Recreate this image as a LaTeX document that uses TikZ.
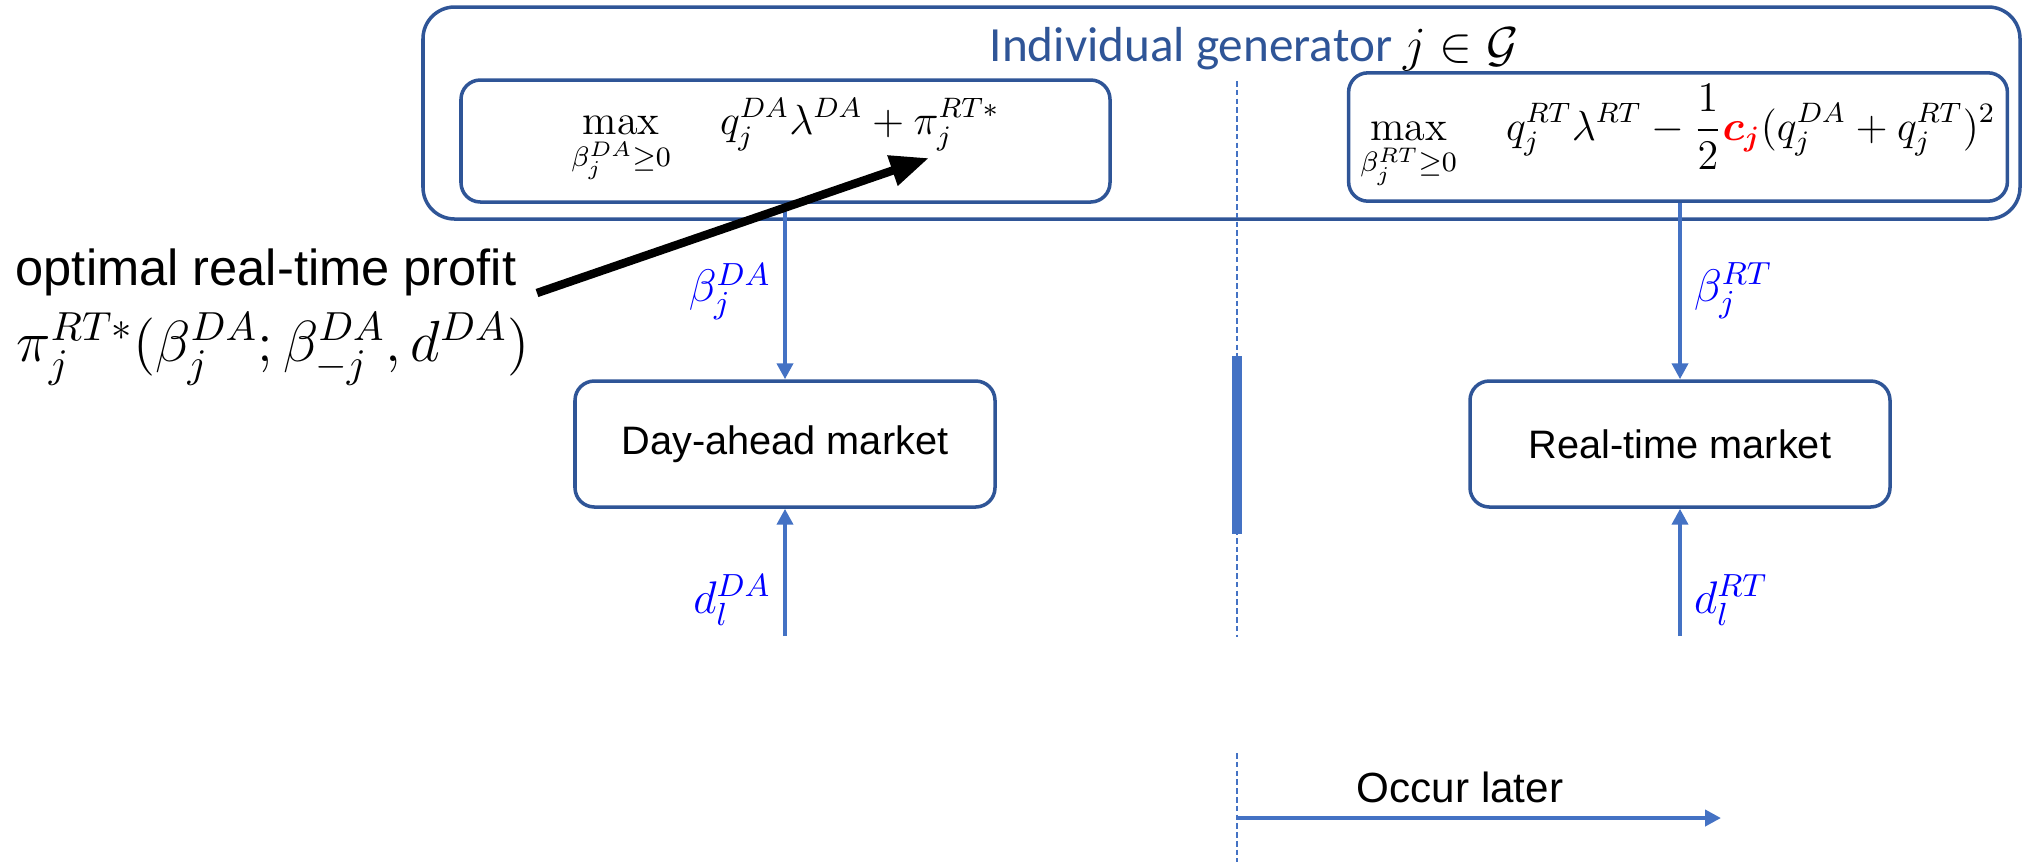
\RequirePackage{fix-cm}
\documentclass[tikz,border=0pt]{standalone}
\usepackage{amsmath}
\usepackage{fontspec}
\newfontfamily\arialfont{Liberation Sans}
\newfontfamily\calibrifont{Carlito}
\usetikzlibrary{positioning, arrows.meta, calc}
\definecolor{boxBlue}{HTML}{2F5597}
\definecolor{flowBlue}{HTML}{4472C4}
\definecolor{labelBlue}{HTML}{0000FF}
\definecolor{costRed}{HTML}{FF0000}

\begin{document}
\begin{tikzpicture}[
    genFrame/.style={draw=boxBlue, line width=1pt, rectangle, rounded corners=9pt},
    objBox/.style={draw=boxBlue, line width=1pt, rectangle, rounded corners=5.5pt, align=center, font=\fontsize{12}{14}\selectfont},
    mktBox/.style={draw=boxBlue, line width=1pt, rectangle, rounded corners=5.5pt, minimum width=4.2cm, minimum height=1.26cm, font=\arialfont\fontsize{11.3}{13}\selectfont},
    flow/.style={draw=flowBlue, line width=1.3pt, -{Triangle[length=4.5pt,width=4.5pt]}},
    flowLabel/.style={text=labelBlue, font=\fontsize{13}{15}\selectfont},
    timeLine/.style={draw=flowBlue, line width=0.6pt, dash pattern=on 1.6pt off 0.9pt},
]
\useasboundingbox (0,0) rectangle (20.23,-8.62);
% generator frame and its two problems
\node[genFrame, minimum width=15.97cm, minimum height=2.12cm] (gen) at (12.215,-1.13) {};
\node[anchor=west, inner sep=0, text=boxBlue, font=\calibrifont\fontsize{14}{16}\selectfont] (genTitle) at (9.89,-0.49) {Individual generator \textcolor{black}{$j\in\mathcal{G}$}};
\node[objBox, minimum width=6.49cm, minimum height=1.22cm] (daObjective) at (7.855,-1.41) {$\displaystyle\max_{\beta_j^{DA}\geq 0}\quad q_j^{DA}\lambda^{DA}+\pi_j^{RT*}$};
\node[objBox, minimum width=6.52cm, minimum height=1.28cm] (rtObjective) at (16.78,-1.37) {$\displaystyle\max_{\beta_j^{RT}\geq 0}\quad q_j^{RT}\lambda^{RT}-\frac{1}{2}\textcolor{costRed}{\boldsymbol{c_j}}(q_j^{DA}+q_j^{RT})^2$};
% markets
\node[mktBox] (daMarket) at (7.85,-4.44) {Day-ahead market};
\node[mktBox] (rtMarket) at (16.80,-4.44) {Real-time market};
\coordinate (daDemand) at (7.85,-6.36);
\coordinate (rtDemand) at (16.80,-6.36);
\draw[flow] (daObjective.south -| daMarket.north) -- (daMarket.north) node[midway, left, flowLabel] {$\beta_j^{DA}$};
\draw[flow] (rtObjective.south -| rtMarket.north) -- (rtMarket.north) node[midway, right, flowLabel] {$\beta_j^{RT}$};
\draw[flow] (daDemand) -- (daMarket.south) node[pos=0.28, left, flowLabel] {$d_l^{DA}$};
\draw[flow] (rtDemand) -- (rtMarket.south) node[pos=0.28, right, flowLabel] {$d_l^{RT}$};
% time split
\coordinate (splitTop) at (12.37,-0.81);
\coordinate (splitBot) at (12.37,-6.37);
\coordinate (nowTop) at (12.37,-3.56);
\coordinate (nowBot) at (12.37,-5.34);
\draw[timeLine] (splitTop) -- (splitBot);
\draw[flowBlue, line width=2.6pt] (nowTop) -- (nowBot);
\coordinate (laterTop) at (12.37,-7.53);
\coordinate (laterBot) at (12.37,-8.62);
\coordinate (laterStart) at (12.37,-8.18);
\coordinate (laterEnd) at (17.21,-8.18);
\draw[timeLine] (laterTop) -- (laterBot);
\draw[flow, line width=1.2pt] (laterStart) -- (laterEnd);
\node[font=\arialfont\fontsize{12}{14}\selectfont] (laterText) at (14.60,-7.87) {Occur later};
% real-time profit note
\node[anchor=west, inner sep=0, font=\arialfont\fontsize{14.4}{17}\selectfont] (profitText) at (0.15,-2.72) {optimal real-time profit};
\node[anchor=west, inner sep=0, font=\fontsize{16.5}{20}\selectfont] (profitFormula) at (0.16,-3.49) {$\pi_j^{RT*}(\beta_j^{DA};\beta_{-j}^{DA},d^{DA})$};
\coordinate (piTail) at (5.37,-2.93);
\coordinate (piTip) at (9.29,-1.58);
\draw[line width=2.4pt, -{Triangle[length=11pt,width=8.5pt]}] (piTail) -- (piTip);
\end{tikzpicture}
\end{document}
